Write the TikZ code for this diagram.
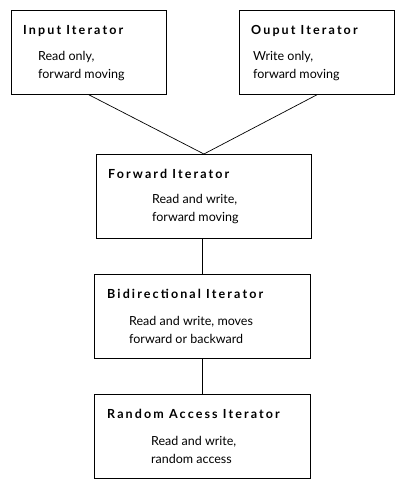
\documentclass[tikz,border=0pt]{standalone}
\usepackage{fontspec}
\setmainfont{Lato}
\newfontfamily\ttlfont{Lato}[LetterSpace=17]
\begin{document}
\begin{tikzpicture}[x=1pt,y=1pt,
  box/.style={draw=black,line width=0.8pt,anchor=north west,minimum height=84pt,inner sep=0pt,fill=white},
  ttl/.style={anchor=west,inner sep=0pt,font=\fontsize{12.5}{15}\ttlfont\bfseries},
  body/.style={anchor=west,inner sep=0pt,align=left,font=\fontsize{12.5}{18}\selectfont},
  link/.style={draw=black,line width=0.7pt}]
\useasboundingbox (0,0) rectangle (405,-489);
\node[box,minimum width=155pt] (in) at (11,-10) {};
\node[box,minimum width=155pt] (out) at (239,-10) {};
\node[box,minimum width=215pt] (fwd) at (96,-154) {};
\node[box,minimum width=216pt] (bid) at (94,-274) {};
\node[box,minimum width=216pt] (ran) at (94,-394) {};
\draw[link] (in.south) -- (fwd.north);
\draw[link] (out.south) -- (fwd.north);
\draw[link] (bid.north |- fwd.south) -- (bid.north);
\draw[link] (bid.south) -- (ran.north);
\node[ttl] (inT) at (23,-31) {Input Iterator};
\node[body] (inB) at (38,-66.5) {Read only,\\forward moving};
\node[ttl] (outT) at (251,-31) {Ouput Iterator};
\node[body] (outB) at (253,-66.5) {Write only,\\forward moving};
\node[ttl] (fwdT) at (108,-174) {Forward Iterator};
\node[body] (fwdB) at (152,-209) {Read and write,\\forward moving};
\node[ttl] (bidT) at (107,-294) {Bidirectional Iterator};
\node[body] (bidB) at (129,-330) {Read and write, moves\\forward or backward};
\node[ttl] (ranT) at (107,-414) {Random Access Iterator};
\node[body] (ranB) at (151,-450) {Read and write,\\random access};
\end{tikzpicture}
\end{document}
